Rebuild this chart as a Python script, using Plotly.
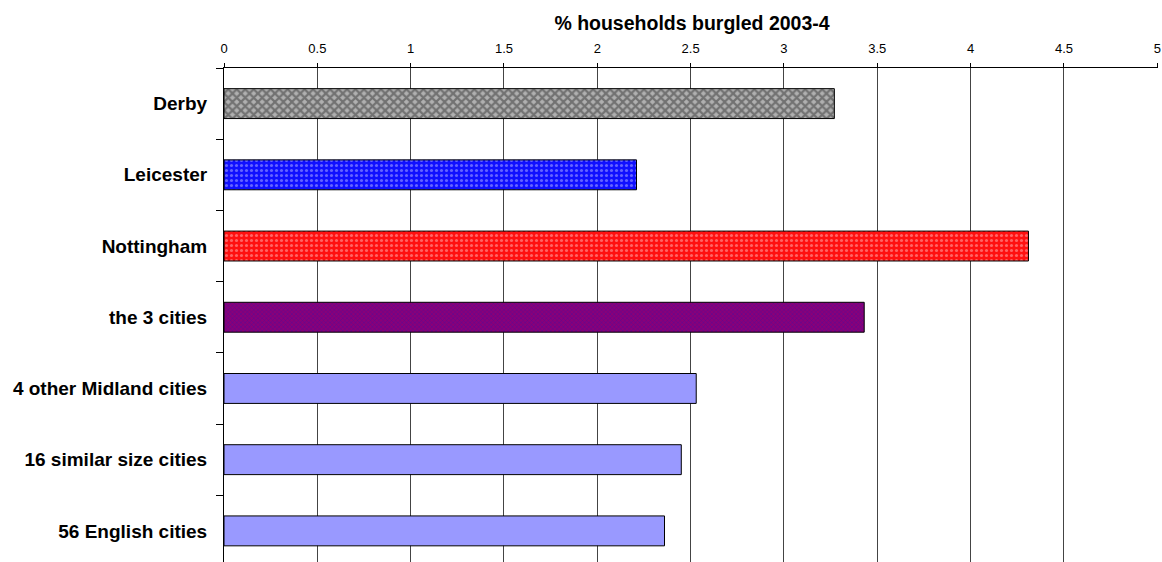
import plotly.graph_objects as go

categories = ["Derby", "Leicester", "Nottingham", "the 3 cities",
              "4 other Midland cities", "16 similar size cities", "56 English cities"]
values = [3.27, 2.21, 4.31, 3.43, 2.53, 2.45, 2.36]
tick_vals = [0, 0.5, 1, 1.5, 2, 2.5, 3, 3.5, 4, 4.5, 5]
tick_text = ["0", "0.5", "1", "1.5", "2", "2.5", "3", "3.5", "4", "4.5", "5"]
title_text = "% households burgled 2003-4"

bg_colors = ["#b0b0b0", "#1010ff", "#ff1010", "#8a0078", "#9999ff", "#9999ff", "#9999ff"]
fg_colors = ["#333333", "#b8b8ff", "#ffb8b8", "#2a10b0", "#9999ff", "#9999ff", "#9999ff"]
shapes = ["x", ".", ".", "x", "", "", ""]
sizes = [6, 5, 5, 3, 4, 4, 4]
solid = [0.6, 0.3, 0.3, 0.35, 0.3, 0.3, 0.3]

W, H = 1162, 562

fig = go.Figure()
for i, cat in enumerate(categories):
    fig.add_trace(go.Bar(
        y=[cat], x=[values[i]], orientation="h", width=0.42,
        marker=dict(
            color=bg_colors[i],
            line=dict(color="#000000", width=1),
            pattern=dict(shape=shapes[i], bgcolor=bg_colors[i], fgcolor=fg_colors[i],
                         size=sizes[i], solidity=solid[i], fillmode="overlay"),
        ),
        showlegend=False,
    ))

fig.update_layout(
    width=W, height=H, barmode="overlay",
    margin=dict(l=224, r=4, t=68, b=0, autoexpand=False),
    paper_bgcolor="white", plot_bgcolor="white",
    font=dict(family="Liberation Sans, Arial, sans-serif", color="#000000"),
    title=dict(text="<b>" + title_text + "</b>", x=692 / W, xanchor="center",
               y=1 - 23 / H, yanchor="middle", font=dict(size=19.5)),
)
fig.update_xaxes(
    side="top", range=[0, 5.004], tickvals=tick_vals, ticktext=tick_text,
    tickfont=dict(size=13), ticks="outside", ticklen=4, tickcolor="#000",
    showgrid=True, gridcolor="#444444", gridwidth=1, automargin=False,
    showline=True, linecolor="#000000", linewidth=1, zeroline=False,
    ticklabelstandoff=5, ticklabeloverflow="allow",
)
fig.update_yaxes(
    type="category", categoryorder="array", categoryarray=categories,
    range=[6.437, -0.5], tickson="boundaries", ticks="outside", ticklen=7,
    tickcolor="#000", showline=True, linecolor="#000000", linewidth=1,
    tickfont=dict(size=19), automargin=False,
    showgrid=False, ticklabelstandoff=12, ticklabeloverflow="allow",
    tickvals=categories, ticktext=["<b>" + c + "</b>" for c in categories],
)

fig.write_html(
    "out.html",
    config={"displayModeBar": False},
    post_script="document.body.style.margin='0';document.body.style.overflow='hidden';",
)
